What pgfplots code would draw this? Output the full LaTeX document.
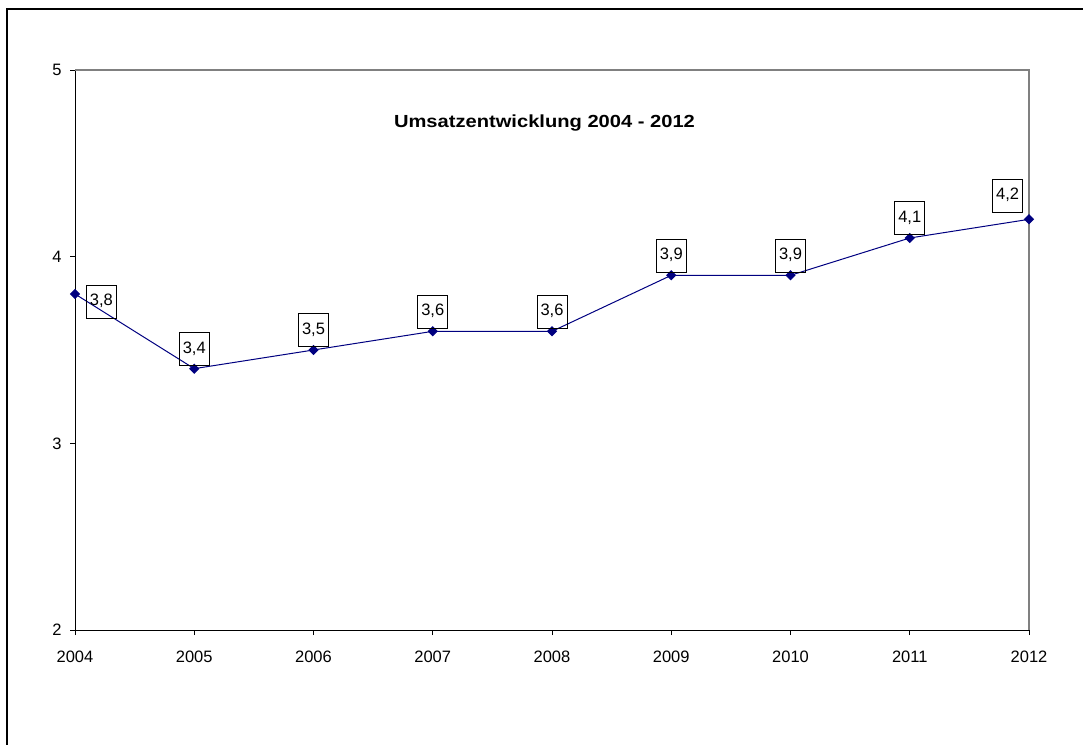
\documentclass[border=0pt]{standalone}
\usepackage{fontspec}
\setmainfont{Liberation Sans}
\usepackage{graphicx}
\usepackage{pgfplots}
\usepackage{pgfplotstable}
\pgfplotsset{compat=1.18}
\definecolor{navyline}{RGB}{0,0,128}
\definecolor{framegray}{RGB}{128,128,128}
\pgfplotstableread{
year value label
2004 3.8 3,8
2005 3.4 3,4
2006 3.5 3,5
2007 3.6 3,6
2008 3.6 3,6
2009 3.9 3,9
2010 3.9 3,9
2011 4.1 4,1
2012 4.2 4,2
}\umsatz
\pgfplotstableread{
year value label
2005 3.4 3,4
2006 3.5 3,5
2007 3.6 3,6
2008 3.6 3,6
2009 3.9 3,9
2010 3.9 3,9
2011 4.1 4,1
}\labmid
\pgfplotstableread{
year value label
2004 3.8 3,8
}\labfirst
\pgfplotstableread{
year value label
2012 4.2 4,2
}\lablast
\tikzset{labbox/.style={font=\fontsize{16.5}{19}\selectfont, draw=black, line width=0.8pt,
  text height=12pt, text depth=3.5pt, inner xsep=3pt, inner ysep=8.75pt, minimum width=30pt}}
\begin{document}
\begin{tikzpicture}[x=1pt,y=1pt]
\useasboundingbox (0,0) rectangle (1083,744);
\draw[line width=1.2pt] (7,-10) -- (7,735) -- (1095,735);
\begin{axis}[
  at={(75pt,114pt)}, anchor=south west,
  scale only axis, width=954pt, height=560pt,
  xmin=2004, xmax=2012, ymin=2, ymax=5,
  xtick={2004,2005,2006,2007,2008,2009,2010,2011,2012}, ytick={2,3,4,5},
  scaled ticks=false,
  axis lines=left, axis line style={-, line width=1pt, black},
  tick align=outside, major tick length=5pt,
  tick style={black, line width=0.8pt},
  ticklabel style={font=\fontsize{16.5}{19}\selectfont},
  xticklabel style={yshift=-12pt},
  yticklabel style={xshift=-5pt},
  /pgf/number format/1000 sep={},
  /pgf/number format/assume math mode=true,
  clip=false,
  point meta=explicit symbolic,
]
\draw[framegray, line width=1.3pt] (rel axis cs:0,1) -- (rel axis cs:1,1) -- (rel axis cs:1,0);
\addplot[navyline, line width=1pt, mark=square*, mark size=3.1pt,
  mark options={rotate=45, fill=navyline, draw=navyline}] table[x=year, y=value] {\umsatz};
\addplot[draw=none, nodes near coords, every node near coord/.append style={labbox, anchor=south, yshift=3pt}]
  table[x=year, y=value, meta=label] {\labmid};
\addplot[draw=none, nodes near coords, every node near coord/.append style={labbox, anchor=west, xshift=11pt, yshift=-7.5pt}]
  table[x=year, y=value, meta=label] {\labfirst};
\addplot[draw=none, nodes near coords, every node near coord/.append style={labbox, anchor=south east, xshift=-6pt, yshift=7pt}]
  table[x=year, y=value, meta=label] {\lablast};
\end{axis}
\node[anchor=base] at (544.5,616) {\scalebox{1.15}[1]{\fontsize{17.5}{21}\selectfont\bfseries Umsatzentwicklung 2004 - 2012}};
\end{tikzpicture}
\end{document}
